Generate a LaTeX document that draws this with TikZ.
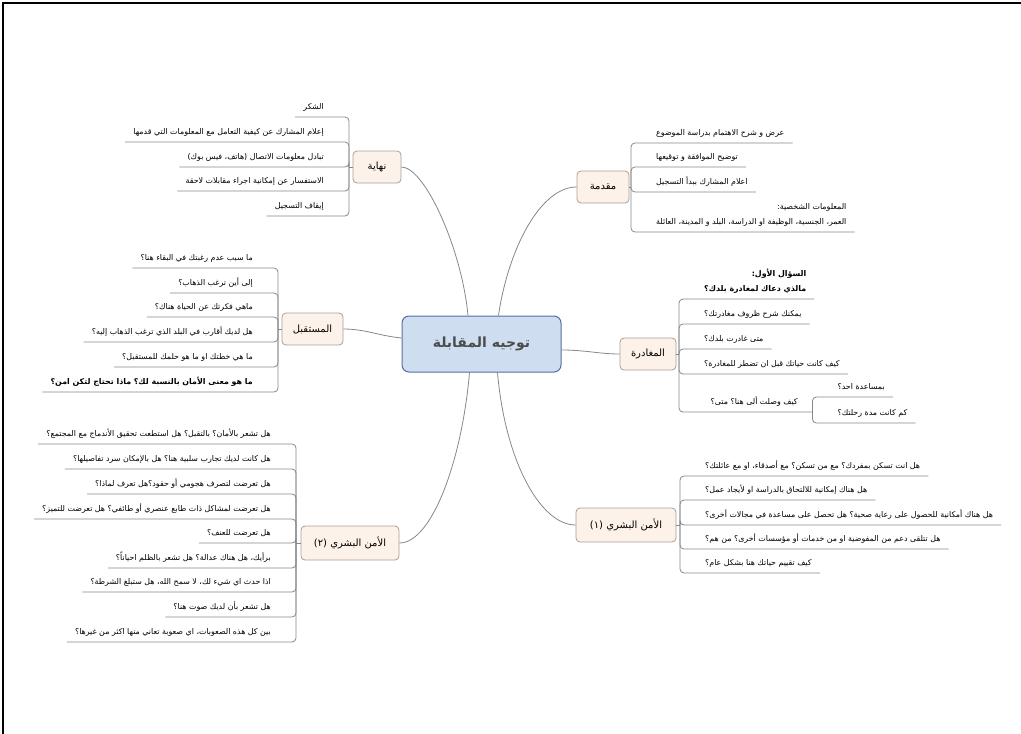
\documentclass[tikz,border=0pt]{standalone}
\usepackage{fontspec}
\usetikzlibrary{calc}
\newfontfamily\arabicfont[Script=Arabic]{DejaVu Sans}
\TeXXeTstate=1
\newcommand{\rl}[1]{\beginR#1\endR}
\definecolor{topicfill}{RGB}{253,242,233}
\definecolor{topicline}{RGB}{168,158,150}
\definecolor{rootfill}{RGB}{206,221,240}
\definecolor{rootline}{RGB}{84,112,158}
\definecolor{linkgray}{RGB}{135,135,135}

\begin{document}
\begin{tikzpicture}[x=1pt,y=-1pt,
  root/.style={draw=rootline, fill=rootfill, line width=1pt, rounded corners=7pt,
    minimum width=159pt, minimum height=56pt,
    font=\arabicfont\bfseries\fontsize{14}{17}\selectfont, text=black!70},
  topic/.style={draw=topicline, fill=topicfill, line width=0.8pt, rounded corners=4pt,
    minimum height=32pt, inner xsep=7pt, font=\arabicfont\fontsize{10}{12}\selectfont},
  item/.style={inner xsep=8pt, inner ysep=0pt, text height=7pt, text depth=7.5pt,
    align=right, font=\arabicfont\fontsize{7.9}{15}\selectfont},
  bitem/.style={item, font=\arabicfont\bfseries\fontsize{7.9}{15}\selectfont},
  litem/.style={item, anchor=south east},
  ritem/.style={item, anchor=south west},
  link/.style={draw=linkgray, line width=0.8pt},
  bracket/.style={link, rounded corners=4pt}]

\useasboundingbox (0,0) rectangle (1021,734);
\draw[line width=1.2pt] (3,734) -- (3,3) -- (1021,3);

\node[root] (root) at (481.5,344) {\rl{توجيه المقابلة}};

% نهاية
\begin{scope}
\pgfmathsetmacro{\bx}{349}
\node[topic, minimum width=48pt] (ending) at (377,167) {\rl{نهاية}};
\node[litem] (end1) at (\bx-17,117) {\rl{الشكر}};
\node[litem] (end2) at (\bx-17,142) {\rl{إعلام المشارك عن كيفية التعامل مع المعلومات التي قدمها}};
\node[litem] (end3) at (\bx-17,167) {\rl{تبادل معلومات الاتصال (هاتف، فيس بوك)}};
\node[litem] (end4) at (\bx-17,191) {\rl{الاستفسار عن إمكانية اجراء مقابلات لاحقة}};
\node[litem] (end5) at (\bx-17,216) {\rl{إيقاف التسجيل}};
\draw[link] (ending.west) -- (\bx,167);
\foreach \i in {1,...,5} \draw[bracket] (\bx,167) |- (end\i.south west);
\end{scope}

% مقدمة
\begin{scope}
\pgfmathsetmacro{\bx}{631}
\node[topic, minimum width=52pt] (intro) at (603,187) {\rl{مقدمة}};
\node[ritem] (int1) at (\bx+17,143) {\rl{عرض و شرح الاهتمام بدراسة الموضوع}};
\node[ritem] (int2) at (\bx+17,167) {\rl{توضيح الموافقة و توقيعها}};
\node[ritem] (int3) at (\bx+17,192) {\rl{اعلام المشارك ببدأ التسجيل}};
\node[ritem] (int4) at (\bx+17,232) {\rl{المعلومات الشخصية:}\\\rl{العمر، الجنسية، الوظيفة او الدراسة، البلد و المدينة، العائلة}};
\draw[link] (intro.east) -- (\bx,187);
\foreach \i in {1,...,4} \draw[bracket] (\bx,187) |- (int\i.south east);
\end{scope}

% المغادرة
\begin{scope}
\pgfmathsetmacro{\bx}{679}
\node[topic, minimum width=56pt] (leave) at (648,354) {\rl{المغادرة}};
\node[ritem, bitem] (lv1) at (\bx+17,299) {\rl{السؤال الأول:}\\\rl{مالذي دعاك لمغادرة بلدك؟}};
\node[ritem] (lv2) at (\bx+17,324) {\rl{يمكنك شرح ظروف مغادرتك؟}};
\node[ritem] (lv3) at (\bx+17,349) {\rl{متى غادرت بلدك؟}};
\node[ritem] (lv4) at (\bx+17,374) {\rl{كيف كانت حياتك قبل ان تضطر للمغادرة؟}};
\node[ritem, minimum width=116pt] (lv5) at (\bx+17,412) {\rl{كيف وصلت  ألى هنا؟ متى؟}};
\node[ritem] (lv5a) at ($(lv5.south east)+(17,-15)$) {\rl{بمساعدة احد؟}};
\node[ritem] (lv5b) at ($(lv5.south east)+(17,11)$) {\rl{كم كانت مدة رحلتك؟}};
\draw[link] (leave.east) -- (\bx,354);
\foreach \i in {1,...,5} \draw[bracket] (\bx,354) |- (lv\i.south east);
\draw[bracket] (lv5.south east) |- (lv5a.south east);
\draw[bracket] (lv5.south east) |- (lv5b.south east);
\end{scope}

% المستقبل
\begin{scope}
\pgfmathsetmacro{\bx}{278}
\node[topic, minimum width=61pt] (future) at (312.5,329) {\rl{المستقبل}};
\node[litem] (fut1) at (\bx-17,268) {\rl{ما سبب عدم رغبتك في البقاء هنا؟}};
\node[litem] (fut2) at (\bx-17,293) {\rl{إلى أين ترغب الذهاب؟}};
\node[litem] (fut3) at (\bx-17,317) {\rl{ماهي فكرتك عن الحياة هناك؟}};
\node[litem] (fut4) at (\bx-17,342) {\rl{هل لديك أقارب في البلد الذي ترغب الذهاب إليه؟}};
\node[litem] (fut5) at (\bx-17,367) {\rl{ما هي خطتك او ما هو حلمك للمستقبل؟}};
\node[litem, bitem] (fut6) at (\bx-17,392) {\rl{ما هو معنى الأمان بالنسبة لك؟  ماذا تحتاج لتكن امن؟}};
\draw[link] (future.west) -- (\bx,329);
\foreach \i in {1,...,6} \draw[bracket] (\bx,329) |- (fut\i.south west);
\end{scope}

% الأمن البشري (١)
\begin{scope}
\pgfmathsetmacro{\bx}{680}
\node[topic, minimum width=100pt, minimum height=34pt] (secA) at (626,525) {\rl{الأمن البشري (١)}};
\node[ritem] (sa1) at (\bx+17,476) {\rl{هل انت تسكن بمفردك؟ مع من تسكن؟ مع أصدقاء، او مع عائلتك؟}};
\node[ritem] (sa2) at (\bx+17,500) {\rl{هل هناك إمكانية للالتحاق بالدراسة او لأيجاد عمل؟}};
\node[ritem] (sa3) at (\bx+17,525) {\rl{هل هناك أمكانية للحصول على رعاية صحية؟ هل تحصل على مساعدة في مجالات أخرى؟}};
\node[ritem] (sa4) at (\bx+17,549) {\rl{هل تتلقى دعم من المفوضية او من خدمات أو مؤسسات أخرى؟ من هم؟}};
\node[ritem] (sa5) at (\bx+17,573) {\rl{كيف تقييم حياتك هنا بشكل عام؟}};
\draw[link] (secA.east) -- (\bx,525);
\foreach \i in {1,...,5} \draw[bracket] (\bx,525) |- (sa\i.south east);
\end{scope}

% الأمن البشري (٢)
\begin{scope}
\pgfmathsetmacro{\bx}{296}
\node[topic, minimum width=98pt, minimum height=34pt] (secB) at (350,543) {\rl{الأمن البشري (٢)}};
\node[litem] (sb1) at (\bx-17,444) {\rl{هل تشعر بالأمان؟ بالتقبل؟ هل استطعت تحقيق الأندماج مع المجتمع؟}};
\node[litem] (sb2) at (\bx-17,469) {\rl{هل كانت لديك تجارب سلبية هنا؟ هل بالإمكان سرد تفاصيلها؟}};
\node[litem] (sb3) at (\bx-17,494) {\rl{هل تعرضت لتصرف هجومي أو حقود؟هل تعرف لماذا؟}};
\node[litem] (sb4) at (\bx-17,519) {\rl{هل تعرضت لمشاكل ذات طابع عنصري أو طائفي؟  هل تعرضت للتميز؟}};
\node[litem] (sb5) at (\bx-17,543) {\rl{هل تعرضت للعنف؟}};
\node[litem] (sb6) at (\bx-17,568) {\rl{برأيك، هل هناك عدالة؟ هل تشعر بالظلم احياناً؟}};
\node[litem] (sb7) at (\bx-17,592) {\rl{اذا حدث اي شيء لك، لا سمح الله، هل ستبلغ الشرطة؟}};
\node[litem] (sb8) at (\bx-17,617) {\rl{هل تشعر بأن لديك صوت هنا؟}};
\node[litem] (sb9) at (\bx-17,642) {\rl{بين كل هذه الصعوبات، اي صعوبة تعاني منها اكثر من غيرها؟}};
\draw[link] (secB.west) -- (\bx,543);
\foreach \i in {1,...,9} \draw[bracket] (\bx,543) |- (sb\i.south west);
\end{scope}

\draw[link] ([xshift=-13.5pt]root.north) .. controls (462,250) and (425,167) .. (ending.east);
\draw[link] ([xshift=17pt]root.north) .. controls (508,250) and (540,187) .. (intro.west);
\draw[link] ([yshift=6pt]root.west) .. controls (380,336) and (365,329) .. (future.east);
\draw[link] ([yshift=-6pt]root.east) .. controls (585,350) and (600,354) .. (leave.west);
\draw[link] ([xshift=16pt]root.south) .. controls (505,460) and (540,525) .. (secA.west);
\draw[link] ([xshift=-12pt]root.south) .. controls (462,460) and (432,543) .. (secB.east);

\end{tikzpicture}
\end{document}
